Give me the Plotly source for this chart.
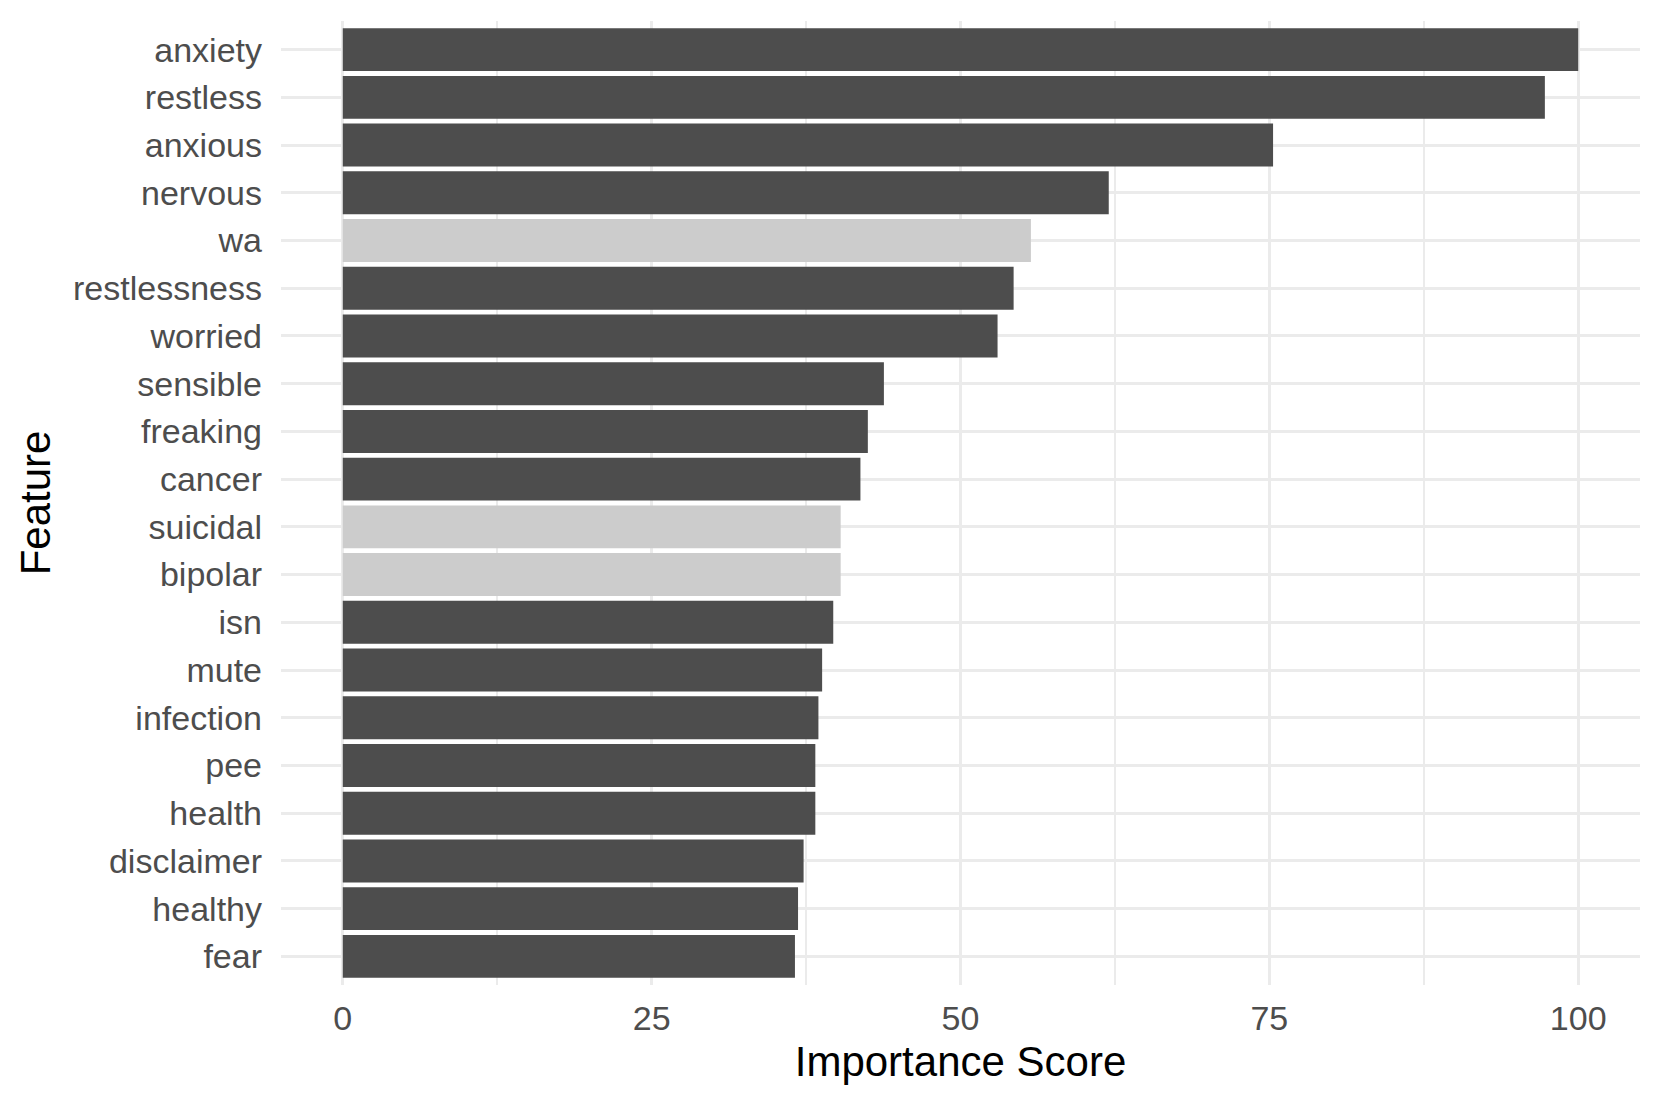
import plotly.graph_objects as go

# ── Datos ─────────────────────────────────────────────────────────────────────
features = [
    'anxiety', 'restless', 'anxious', 'nervous', 'wa', 'restlessness',
    'worried', 'sensible', 'freaking', 'cancer', 'suicidal', 'bipolar',
    'isn', 'mute', 'infection', 'pee', 'health', 'disclaimer', 'healthy', 'fear',
]
importance = [
    100.0, 97.3, 75.3, 62.0, 55.7, 54.3,
    53.0, 43.8, 42.5, 41.9, 40.3, 40.3,
    39.7, 38.8, 38.5, 38.25, 38.25, 37.3, 36.85, 36.6,
]
highlighted = ['wa', 'suicidal', 'bipolar']
x_ticks = [0, 25, 50, 75, 100]

DARK = '#4D4D4D'
LIGHT = '#CCCCCC'
GRID = '#EBEBEB'

colors = [LIGHT if f in highlighted else DARK for f in features]

fig = go.Figure()
fig.add_trace(go.Bar(
    x=importance, y=features, orientation='h',
    marker=dict(color=colors, line=dict(width=0)),
    width=0.9,
))

n = len(features)
# la página html añade ~8px de margen al body: se compensa aquí
fig.update_layout(
    width=1661, height=1107,
    paper_bgcolor='white', plot_bgcolor='white',
    font=dict(family='Liberation Sans, Arial, sans-serif', size=34, color=DARK),
    margin=dict(l=273, r=29, t=13, b=130),
    showlegend=False,
    bargap=0.1,
    xaxis=dict(
        range=[-5, 105], tickvals=x_ticks, ticktext=[str(v) for v in x_ticks],
        showgrid=True, gridcolor=GRID, gridwidth=3.3,
        minor=dict(dtick=12.5, tick0=0, showgrid=True, gridcolor=GRID, gridwidth=1.7),
        zeroline=False, showline=False, ticks='',
        ticklabelstandoff=10,
        tickfont=dict(size=34, color=DARK),
        title=dict(text='Importance Score', font=dict(size=42, color='black'), standoff=10),
    ),
    yaxis=dict(
        range=[n - 1 + 0.6, -0.6],
        categoryorder='array', categoryarray=features,
        showgrid=True, gridcolor=GRID, gridwidth=3.3,
        zeroline=False, showline=False, ticks='',
        ticklabelstandoff=18,
        tickfont=dict(size=34, color=DARK),
        title=dict(text='Feature', font=dict(size=42, color='black'), standoff=9),
    ),
)

fig.write_html('out.html')
